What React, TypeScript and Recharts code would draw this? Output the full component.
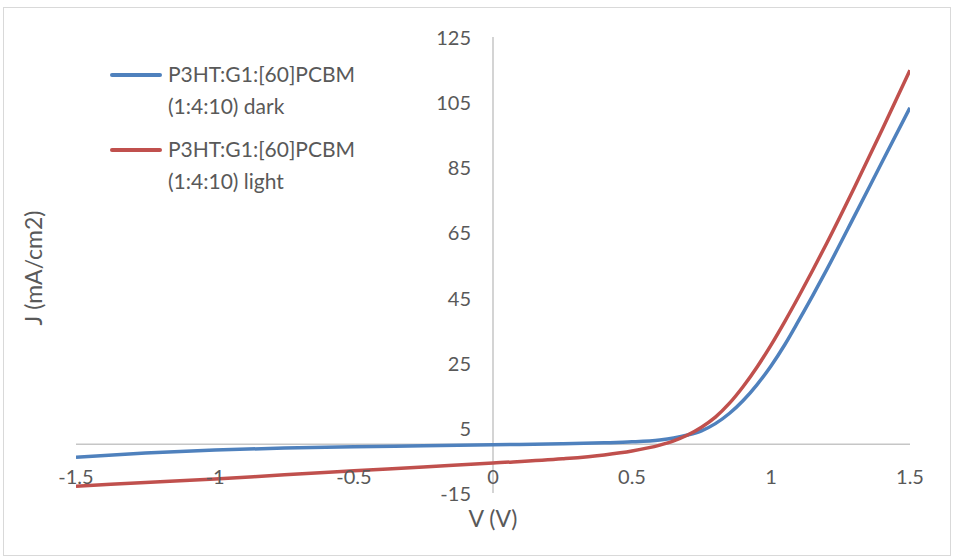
import React from "react";
import { LineChart, Line, XAxis, YAxis, ReferenceLine } from "recharts";

const voltages = [
  -1.5, -1.25, -1.0, -0.75, -0.5, -0.25, 0, 0.25, 0.4, 0.5, 0.6, 0.65, 0.7, 0.75, 0.8, 0.85, 0.9,
  0.95, 1.0, 1.05, 1.1, 1.15, 1.2, 1.3, 1.4, 1.5,
];
const darkJ = [
  -4.0, -2.7, -1.8, -1.2, -0.8, -0.5, -0.2, 0.1, 0.4, 0.7, 1.3, 1.9, 2.8, 4.1, 6.3, 9.4, 13.4,
  18.3, 24.0, 30.6, 38.0, 45.6, 53.5, 70.0, 86.7, 103.3,
];
const lightJ = [
  -12.9, -11.8, -10.7, -9.4, -8.2, -7.0, -5.8, -4.5, -3.3, -2.1, -0.3, 1.0, 2.8, 5.2, 8.3, 12.5, 17.7,
  23.7, 30.4, 37.7, 45.4, 53.4, 61.6, 78.8, 96.6, 114.8,
];
const xTicks = [-1.5, -1, -0.5, 0, 0.5, 1, 1.5];
const yTicks = [-15, 5, 25, 45, 65, 85, 105, 125];
const seriesNames = ["P3HT:G1:[60]PCBM (1:4:10) dark", "P3HT:G1:[60]PCBM (1:4:10) light"];

const BLUE = "#4F81BD";
const RED = "#C0504D";
const TEXT = "#595959";
const AXIS = "#C6C6C6";
const FONT = "Lato, 'Open Sans', sans-serif";

const W = 954;
const H = 560;
const margin = { top: 37, right: 44, bottom: 66, left: 75 };
const plotLeft = 76;
const plotW = W - plotLeft - margin.right;
// pixel position of V = 0, where the vertical axis crosses
const zeroX = plotLeft + (plotW * (0 - xTicks[0])) / (xTicks[xTicks.length - 1] - xTicks[0]);

const data = voltages.map((v, i) => ({ v, dark: darkJ[i], light: lightJ[i] }));

const XTick = (props: any) => (
  <text x={props.x} y={476} textAnchor="middle" dominantBaseline="central" fill={TEXT} fontSize={20} fontFamily={FONT}>
    {props.payload.value}
  </text>
);

const YTick = (props: any) => (
  <text x={zeroX - 22} y={props.y} textAnchor="end" dominantBaseline="central" fill={TEXT} fontSize={20} fontFamily={FONT}>
    {props.payload.value}
  </text>
);

const LegendBox = () => (
  <div
    style={{
      position: "absolute",
      left: 110,
      top: 58,
      fontFamily: FONT,
      fontSize: 21,
      color: TEXT,
      lineHeight: "32px",
    }}
  >
    {[BLUE, RED].map((c, i) => {
      const [a, b] = [seriesNames[i].slice(0, 16), seriesNames[i].slice(17)];
      return (
        <div key={i} style={{ display: "flex", alignItems: "flex-start", marginBottom: i === 0 ? 11 : 0 }}>
          <div style={{ width: 52, height: 4, background: c, marginTop: 15, marginRight: 6, borderRadius: 2 }} />
          <div>
            <div>{a}</div>
            <div>{b}</div>
          </div>
        </div>
      );
    })}
  </div>
);

export default function App() {
  return (
    <div style={{ position: "absolute", left: 0, top: 0, width: W, height: H, background: "#fff" }}>
      <div
        style={{
          position: "absolute",
          left: 3,
          top: 7,
          width: 946,
          height: 547,
          border: "1px solid #D9D9D9",
        }}
      />
      <LineChart width={W} height={H} data={data} margin={margin} style={{ position: "absolute", left: 0, top: 0 }}>
        <XAxis
          dataKey="v"
          type="number"
          domain={[-1.5, 1.5]}
          ticks={xTicks}
          axisLine={false}
          tickLine={false}
          height={1}
          tick={(p: any) => <XTick {...p} />}
          interval={0}
          allowDataOverflow
        />
        <YAxis
          type="number"
          domain={[-15, 125]}
          ticks={yTicks}
          axisLine={false}
          tickLine={false}
          width={1}
          tick={(p: any) => <YTick {...p} />}
          interval={0}
          allowDataOverflow
        />
        <ReferenceLine y={0} stroke={AXIS} strokeWidth={1.5} />
        <ReferenceLine x={0} stroke={AXIS} strokeWidth={1.5} />
        <Line
          dataKey="dark"
          name={seriesNames[0]}
          type="monotone"
          stroke={BLUE}
          strokeWidth={3.5}
          dot={false}
          isAnimationActive={false}
        />
        <Line
          dataKey="light"
          name={seriesNames[1]}
          type="monotone"
          stroke={RED}
          strokeWidth={3.5}
          dot={false}
          isAnimationActive={false}
        />
        <text x={zeroX} y={518} textAnchor="middle" dominantBaseline="central" fill={TEXT} fontSize={23} fontFamily={FONT}>
          V (V)
        </text>
        <text
          x={33}
          y={268}
          textAnchor="middle"
          dominantBaseline="central"
          fill={TEXT}
          fontSize={23}
          fontFamily={FONT}
          transform="rotate(-90 33 268)"
        >
          J (mA/cm2)
        </text>
      </LineChart>
      <LegendBox />
    </div>
  );
}
